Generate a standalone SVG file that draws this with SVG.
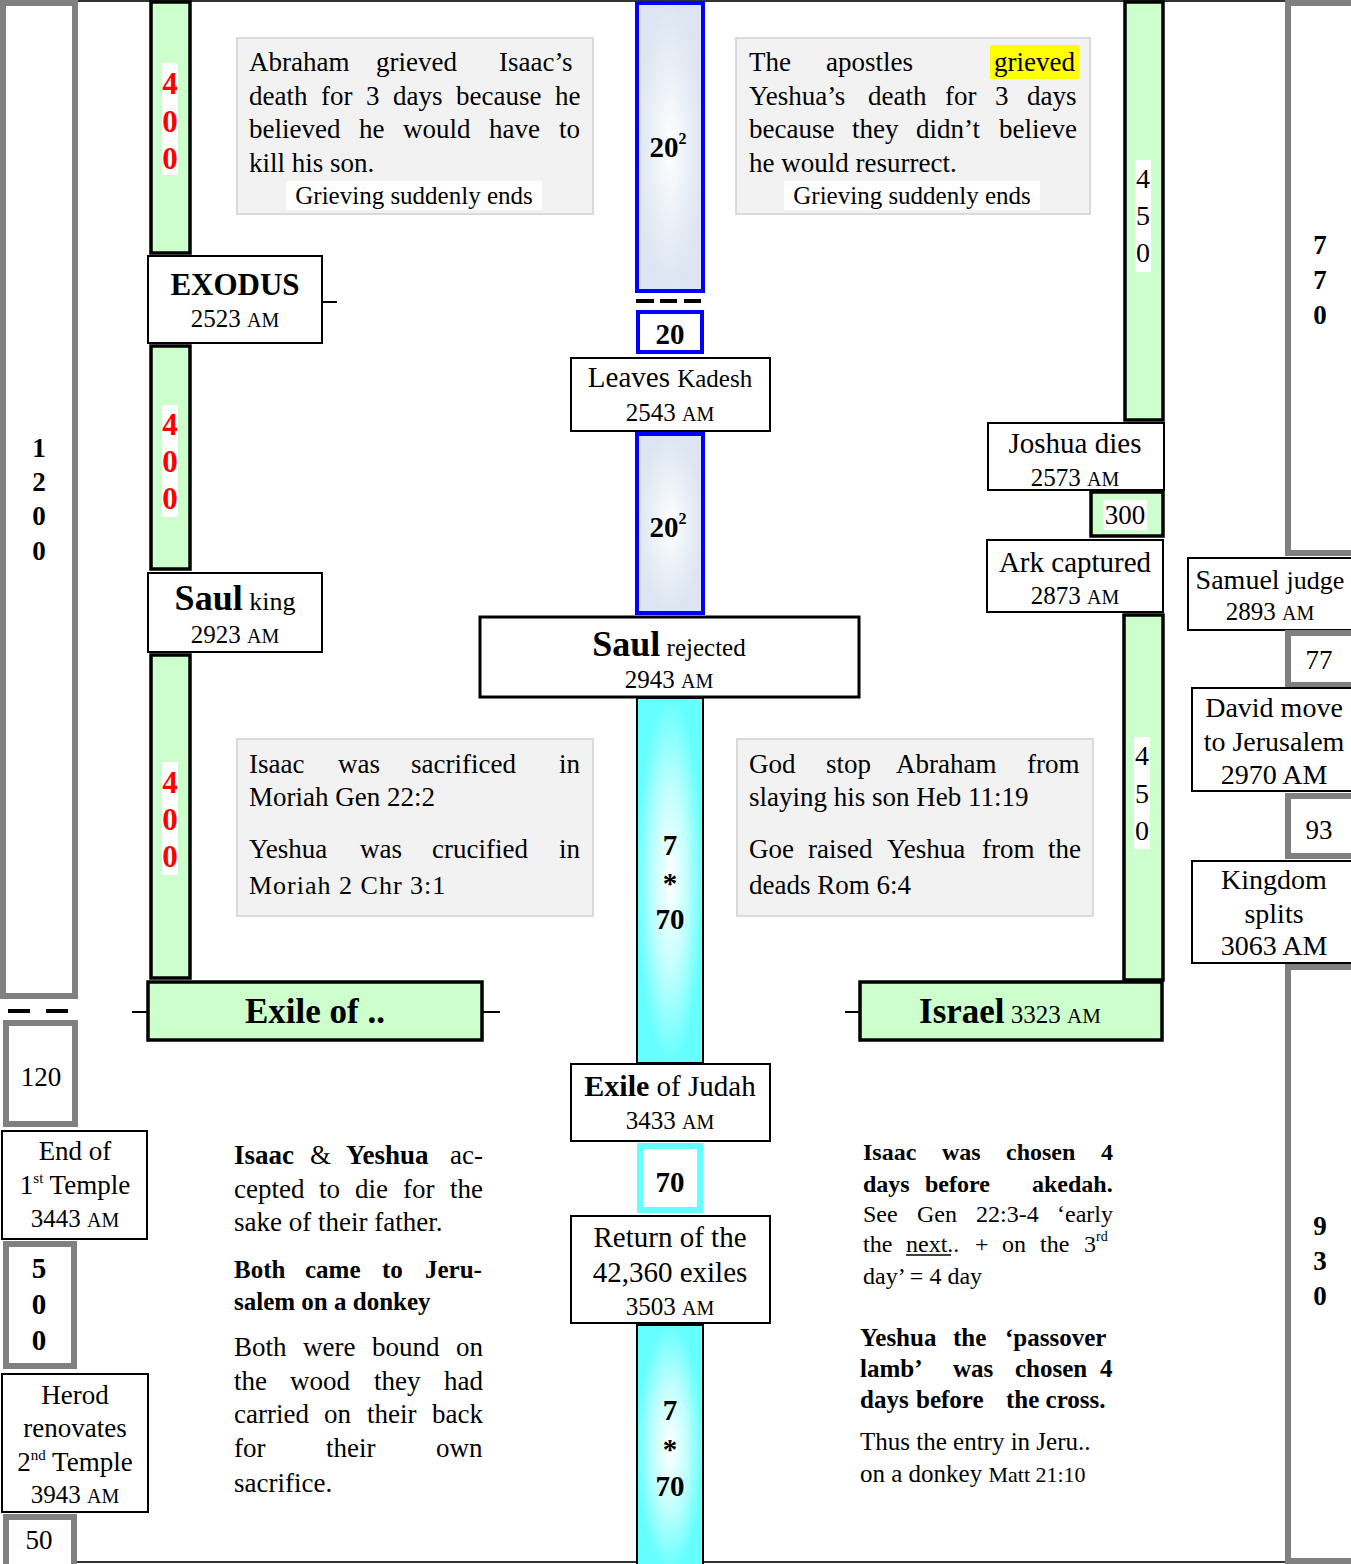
<svg xmlns="http://www.w3.org/2000/svg" width="1351" height="1564" viewBox="0 0 1351 1564">
<style>
text{font-family:"Liberation Serif","Times New Roman",serif;fill:#000}
.c{text-anchor:middle}
.b{font-weight:bold}
.box{fill:#fff;stroke:#000;stroke-width:2}
.box3{fill:#fff;stroke:#000;stroke-width:3}
.gbar{fill:#CCFFCC;stroke:#000;stroke-width:3.5}
.gray{fill:#fff;stroke:#808080;stroke-width:6}
.note{fill:#F2F2F2;stroke:#DADADA;stroke-width:2}
.blue{stroke:#0000FF;stroke-width:4;fill:url(#bg)}
.cyan{fill:url(#cg);stroke:#000;stroke-width:2}
.red{fill:#FF0000;font-weight:bold;font-size:31px}
.wbg{fill:#fff}
.n27{font-size:27px}
.tick{stroke:#000;stroke-width:2}
</style>
<defs>
<radialGradient id="bg" cx="0.5" cy="0.5" r="0.5">
<stop offset="0" stop-color="#FFFFFF"/>
<stop offset="0.55" stop-color="#EAF0F7"/>
<stop offset="1" stop-color="#DCE5F1"/>
</radialGradient>
<radialGradient id="cg" cx="0.5" cy="0.5" r="0.5">
<stop offset="0" stop-color="#FFFFFF"/>
<stop offset="0.5" stop-color="#C4FFFF"/>
<stop offset="1" stop-color="#66FFFF"/>
</radialGradient>
</defs>
<rect width="1351" height="1564" fill="#fff"/>

<g id="connectors">
<line x1="78" y1="1" x2="1286" y2="1" stroke="#333" stroke-width="2"/>
<line x1="76" y1="1562" x2="1286" y2="1562" stroke="#333" stroke-width="2"/>
<line class="tick" x1="322" y1="302" x2="337" y2="302"/>
<line class="tick" x1="132" y1="1012" x2="148" y2="1012"/>
<line class="tick" x1="483" y1="1012" x2="500" y2="1012"/>
<line class="tick" x1="845" y1="1012" x2="860" y2="1012"/>
<g stroke="#000" stroke-width="4">
<line x1="8" y1="1011" x2="30" y2="1011"/>
<line x1="46" y1="1011" x2="68" y2="1011"/>
<line x1="636" y1="301" x2="654" y2="301"/>
<line x1="660" y1="301" x2="677" y2="301"/>
<line x1="684" y1="301" x2="701" y2="301"/>
</g>
</g>

<!-- left gray column -->
<g id="span1200">
<rect class="gray" x="3" y="3" width="72" height="993"/>
<text class="c b" font-size="27" x="39" y="457">1</text>
<text class="c b" font-size="27" x="39" y="491">2</text>
<text class="c b" font-size="27" x="39" y="525">0</text>
<text class="c b" font-size="27" x="39" y="560">0</text>
</g>
<g id="span120">
<rect class="gray" x="6" y="1023" width="69" height="101"/>
<text class="c" font-size="27" x="41" y="1086">120</text>
</g>
<g id="end-first-temple">
<rect class="box" x="2" y="1131" width="145" height="108"/>
<text class="c" font-size="27" x="75" y="1160">End of</text>
<text class="c" font-size="27" x="75" y="1194">1<tspan font-size="15" dy="-11">st</tspan><tspan dy="11"> Temple</tspan></text>
<text class="c" font-size="25" x="75" y="1227">3443 <tspan font-size="20">AM</tspan></text>
</g>
<g id="span500">
<rect class="gray" x="6" y="1244" width="68" height="122"/>
<text class="c b" font-size="29" x="39" y="1278">5</text>
<text class="c b" font-size="29" x="39" y="1314">0</text>
<text class="c b" font-size="29" x="39" y="1350">0</text>
</g>
<g id="herod">
<rect class="box" x="2" y="1374" width="146" height="138"/>
<text class="c" font-size="27" x="75" y="1404">Herod</text>
<text class="c" font-size="27" x="75" y="1437">renovates</text>
<text class="c" font-size="27" x="75" y="1471">2<tspan font-size="15" dy="-11">nd</tspan><tspan dy="11"> Temple</tspan></text>
<text class="c" font-size="25" x="75" y="1503">3943 <tspan font-size="20">AM</tspan></text>
</g>
<g id="span50">
<rect class="gray" x="6" y="1517" width="68" height="52"/>
<text class="c" font-size="27" x="39" y="1549">50</text>
</g>

<!-- left green bars -->
<g id="bar400a">
<rect class="gbar" x="151" y="2" width="39" height="251"/>
<rect class="wbg" x="162" y="63" width="16" height="112"/>
<text class="c red" x="170" y="94">4</text>
<text class="c red" x="170" y="132">0</text>
<text class="c red" x="170" y="169">0</text>
</g>
<g id="exodus">
<rect class="box" x="148" y="256" width="174" height="87"/>
<text class="c b" font-size="31" x="235" y="295">EXODUS</text>
<text class="c" font-size="25" x="235" y="327">2523 <tspan font-size="20">AM</tspan></text>
</g>
<g id="bar400b">
<rect class="gbar" x="151" y="346" width="39" height="223"/>
<rect class="wbg" x="162" y="405" width="16" height="112"/>
<text class="c red" x="170" y="435">4</text>
<text class="c red" x="170" y="472">0</text>
<text class="c red" x="170" y="509">0</text>
</g>
<g id="saul-king">
<rect class="box" x="148" y="573" width="174" height="79"/>
<text class="c" x="235" y="610"><tspan class="b" font-size="36">Saul</tspan><tspan font-size="26"> king</tspan></text>
<text class="c" font-size="25" x="235" y="643">2923 <tspan font-size="20">AM</tspan></text>
</g>
<g id="bar400c">
<rect class="gbar" x="151" y="655" width="39" height="323"/>
<rect class="wbg" x="162" y="762" width="16" height="113"/>
<text class="c red" x="170" y="793">4</text>
<text class="c red" x="170" y="830">0</text>
<text class="c red" x="170" y="867">0</text>
</g>
<g id="exile-of">
<rect class="gbar" x="148" y="982" width="334" height="58"/>
<text class="c b" font-size="35" x="315" y="1023">Exile of ..</text>
</g>

<!-- note boxes -->
<g id="note-abraham-grieved">
<rect class="note" x="237" y="38" width="356" height="176"/>
<text class="n27" y="71"><tspan x="249">Abraham</tspan><tspan x="376">grieved</tspan><tspan x="499">Isaac’s</tspan></text>
<text class="n27" y="105"><tspan x="249">death</tspan><tspan x="321">for</tspan><tspan x="366">3</tspan><tspan x="393">days</tspan><tspan x="456">because</tspan><tspan x="555">he</tspan></text>
<text class="n27" y="138"><tspan x="249">believed</tspan><tspan x="359">he</tspan><tspan x="403">would</tspan><tspan x="489">have</tspan><tspan x="559">to</tspan></text>
<text class="n27" x="249" y="172">kill his son.</text>
<rect class="wbg" x="286" y="181" width="256" height="29"/>
<text class="c" font-size="25" x="414" y="204">Grieving suddenly ends</text>
</g>
<g id="note-apostles-grieved">
<rect class="note" x="736" y="38" width="354" height="176"/>
<rect fill="#FFFF00" x="990" y="45" width="89" height="34"/>
<text class="n27" y="71"><tspan x="749">The</tspan><tspan x="826">apostles</tspan><tspan x="994">grieved</tspan></text>
<text class="n27" y="105"><tspan x="749">Yeshua’s</tspan><tspan x="868">death</tspan><tspan x="945">for</tspan><tspan x="995">3</tspan><tspan x="1027">days</tspan></text>
<text class="n27" y="138"><tspan x="749">because</tspan><tspan x="852">they</tspan><tspan x="916">didn’t</tspan><tspan x="999">believe</tspan></text>
<text class="n27" x="749" y="172">he would resurrect.</text>
<rect class="wbg" x="784" y="181" width="256" height="29"/>
<text class="c" font-size="25" x="912" y="204">Grieving suddenly ends</text>
</g>
<g id="note-moriah">
<rect class="note" x="237" y="739" width="356" height="177"/>
<text class="n27" y="773"><tspan x="249">Isaac</tspan><tspan x="338">was</tspan><tspan x="411">sacrificed</tspan><tspan x="559">in</tspan></text>
<text class="n27" x="249" y="806">Moriah  Gen 22:2</text>
<text class="n27" y="858"><tspan x="249">Yeshua</tspan><tspan x="360">was</tspan><tspan x="432">crucified</tspan><tspan x="559">in</tspan></text>
<text x="249" y="894" font-family="'DejaVu Sans','Noto Sans',sans-serif" font-size="26" letter-spacing="1">Moriah 2 Chr 3:1</text>
</g>
<g id="note-god-stop">
<rect class="note" x="737" y="739" width="356" height="177"/>
<text class="n27" y="773"><tspan x="749">God</tspan><tspan x="826">stop</tspan><tspan x="896">Abraham</tspan><tspan x="1027">from</tspan></text>
<text class="n27" x="749" y="806">slaying his son Heb 11:19</text>
<text class="n27" y="858"><tspan x="749">Goe</tspan><tspan x="808">raised</tspan><tspan x="887">Yeshua</tspan><tspan x="982">from</tspan><tspan x="1048">the</tspan></text>
<text class="n27" x="749" y="894">deads Rom 6:4</text>
</g>

<!-- center column -->
<g id="bar20sq-a">
<rect class="blue" x="637" y="3" width="66" height="288"/>
<text class="c b" font-size="29" x="668" y="157">20<tspan font-size="16" dy="-13">2</tspan></text>
</g>
<g id="box20">
<rect fill="#fff" stroke="#0000FF" stroke-width="4" x="638" y="312" width="64" height="40"/>
<text class="c b" font-size="29" x="670" y="344">20</text>
</g>
<g id="leaves-kadesh">
<rect class="box" x="571" y="358" width="199" height="73"/>
<text class="c" x="670" y="387"><tspan font-size="29">Leaves </tspan><tspan font-size="25">Kadesh</tspan></text>
<text class="c" font-size="25" x="670" y="421">2543 <tspan font-size="20">AM</tspan></text>
</g>
<g id="bar20sq-b">
<rect class="blue" x="637" y="434" width="66" height="179"/>
<text class="c b" font-size="29" x="668" y="537">20<tspan font-size="16" dy="-13">2</tspan></text>
</g>
<g id="saul-rejected">
<rect class="box3" x="480" y="617" width="379" height="80"/>
<text class="c" x="669" y="656"><tspan class="b" font-size="36">Saul</tspan><tspan font-size="25"> rejected</tspan></text>
<text class="c" font-size="25" x="669" y="688">2943 <tspan font-size="20">AM</tspan></text>
</g>
<g id="bar490a">
<rect class="cyan" x="637" y="698" width="66" height="365"/>
<text class="c b" font-size="29" x="670" y="855">7</text>
<text class="c b" font-size="29" x="670" y="893">*</text>
<text class="c b" font-size="29" x="670" y="929">70</text>
</g>
<g id="exile-judah">
<rect class="box" x="571" y="1064" width="199" height="77"/>
<text class="c" x="670" y="1096"><tspan class="b" font-size="30">Exile</tspan><tspan font-size="29"> of Judah</tspan></text>
<text class="c" font-size="25" x="670" y="1129">3433 <tspan font-size="20">AM</tspan></text>
</g>
<g id="box70">
<rect fill="#fff" stroke="#66FFFF" stroke-width="6" x="640" y="1146" width="60" height="64"/>
<text class="c b" font-size="29" x="670" y="1192">70</text>
</g>
<g id="return-exiles">
<rect class="box" x="571" y="1216" width="199" height="107"/>
<text class="c" font-size="29" x="670" y="1247">Return of the</text>
<text class="c" font-size="29" x="670" y="1282">42,360 exiles</text>
<text class="c" font-size="25" x="670" y="1315">3503 <tspan font-size="20">AM</tspan></text>
</g>
<g id="bar490b">
<rect class="cyan" x="637" y="1325" width="66" height="245"/>
<text class="c b" font-size="29" x="670" y="1420">7</text>
<text class="c b" font-size="29" x="670" y="1459">*</text>
<text class="c b" font-size="29" x="670" y="1496">70</text>
</g>

<!-- right green column -->
<g id="bar450a">
<rect class="gbar" x="1125" y="2" width="38" height="418"/>
<rect class="wbg" x="1135" y="160" width="16" height="112"/>
<text class="c" font-size="28" x="1143" y="188">4</text>
<text class="c" font-size="28" x="1143" y="225">5</text>
<text class="c" font-size="28" x="1143" y="262">0</text>
</g>
<g id="joshua-dies">
<rect class="box" x="988" y="423" width="176" height="67"/>
<text class="c" font-size="29" x="1075" y="453">Joshua dies</text>
<text class="c" font-size="25" x="1075" y="486">2573 <tspan font-size="20">AM</tspan></text>
</g>
<g id="span300">
<rect class="gbar" x="1091" y="492" width="72" height="44"/>
<rect class="wbg" x="1103" y="500" width="44" height="30"/>
<text class="c" font-size="27" x="1125" y="524">300</text>
</g>
<g id="ark-captured">
<rect class="box" x="987" y="540" width="176" height="72"/>
<text class="c" font-size="29" x="1075" y="572">Ark captured</text>
<text class="c" font-size="25" x="1075" y="604">2873 <tspan font-size="20">AM</tspan></text>
</g>
<g id="bar450b">
<rect class="gbar" x="1124" y="615" width="39" height="365"/>
<rect class="wbg" x="1134" y="737" width="16" height="112"/>
<text class="c" font-size="28" x="1142" y="765">4</text>
<text class="c" font-size="28" x="1142" y="803">5</text>
<text class="c" font-size="28" x="1142" y="840">0</text>
</g>
<g id="israel">
<rect class="gbar" x="860" y="982" width="302" height="58"/>
<text class="c" x="1010" y="1023"><tspan class="b" font-size="35">Israel</tspan><tspan font-size="25"> 3323 <tspan font-size="21">AM</tspan></tspan></text>
</g>

<!-- far right gray column -->
<g id="span770">
<rect class="gray" x="1288" y="3" width="70" height="550"/>
<text class="c b" font-size="27" x="1320" y="254">7</text>
<text class="c b" font-size="27" x="1320" y="289">7</text>
<text class="c b" font-size="27" x="1320" y="324">0</text>
</g>
<g id="samuel-judge">
<rect class="box" x="1188" y="558" width="170" height="72"/>
<text class="c" x="1270" y="589"><tspan font-size="28">Samuel </tspan><tspan font-size="26">judge</tspan></text>
<text class="c" font-size="25" x="1270" y="620">2893 <tspan font-size="20">AM</tspan></text>
</g>
<g id="span77">
<rect class="gray" x="1288" y="633" width="70" height="52"/>
<text class="c" font-size="27" x="1319" y="669">77</text>
</g>
<g id="david-jerusalem">
<rect class="box" x="1192" y="688" width="166" height="103"/>
<text class="c" font-size="28" x="1274" y="717">David move</text>
<text class="c" font-size="28" x="1274" y="751">to Jerusalem</text>
<text class="c" font-size="28" x="1274" y="784">2970 AM</text>
</g>
<g id="span93">
<rect class="gray" x="1288" y="796" width="70" height="60"/>
<text class="c" font-size="27" x="1319" y="839">93</text>
</g>
<g id="kingdom-splits">
<rect class="box" x="1192" y="861" width="166" height="102"/>
<text class="c" font-size="28" x="1274" y="889">Kingdom</text>
<text class="c" font-size="28" x="1274" y="923">splits</text>
<text class="c" font-size="28" x="1274" y="955">3063 AM</text>
</g>
<g id="span930">
<rect class="gray" x="1288" y="967" width="70" height="594"/>
<text class="c b" font-size="27" x="1320" y="1235">9</text>
<text class="c b" font-size="27" x="1320" y="1270">3</text>
<text class="c b" font-size="27" x="1320" y="1305">0</text>
</g>

<!-- bottom texts -->
<g id="text-isaac-yeshua">
<text class="n27" y="1164"><tspan x="234" class="b">Isaac</tspan><tspan x="310">&amp;</tspan><tspan x="346" class="b">Yeshua</tspan><tspan x="450">ac-</tspan></text>
<text class="n27" y="1198"><tspan x="234">cepted</tspan><tspan x="319">to</tspan><tspan x="355">die</tspan><tspan x="403">for</tspan><tspan x="450">the</tspan></text>
<text class="n27" x="234" y="1231">sake of their father.</text>
<text class="b" font-size="25" y="1278"><tspan x="234">Both</tspan><tspan x="305">came</tspan><tspan x="382">to</tspan><tspan x="425">Jeru-</tspan></text>
<text class="b" font-size="25" x="234" y="1310">salem on a donkey</text>
<text class="n27" y="1356"><tspan x="234">Both</tspan><tspan x="303">were</tspan><tspan x="372">bound</tspan><tspan x="456">on</tspan></text>
<text class="n27" y="1390"><tspan x="234">the</tspan><tspan x="290">wood</tspan><tspan x="374">they</tspan><tspan x="444">had</tspan></text>
<text class="n27" y="1423"><tspan x="234">carried</tspan><tspan x="324">on</tspan><tspan x="367">their</tspan><tspan x="432">back</tspan></text>
<text class="n27" y="1457"><tspan x="234">for</tspan><tspan x="326">their</tspan><tspan x="436">own</tspan></text>
<text class="n27" x="234" y="1492">sacrifice.</text>
</g>
<g id="text-chosen">
<text class="b" font-size="24" y="1160"><tspan x="863">Isaac</tspan><tspan x="942">was</tspan><tspan x="1006">chosen</tspan><tspan x="1101">4</tspan></text>
<text class="b" font-size="24" y="1192"><tspan x="863">days</tspan><tspan x="925">before</tspan><tspan x="1032">akedah.</tspan></text>
<text font-size="24" y="1222"><tspan x="863">See</tspan><tspan x="917">Gen</tspan><tspan x="976">22:3-4</tspan><tspan x="1057">‘early</tspan></text>
<text font-size="24" y="1252"><tspan x="863">the</tspan><tspan x="906">next</tspan><tspan>..</tspan><tspan x="975">+</tspan><tspan x="1002">on</tspan><tspan x="1040">the</tspan><tspan x="1084">3</tspan><tspan font-size="14" dy="-11">rd</tspan></text>
<line x1="906" y1="1255" x2="951" y2="1255" stroke="#000" stroke-width="1.5"/>
<text font-size="24" x="863" y="1284">day’ = 4 day</text>
<text class="b" font-size="25" y="1346"><tspan x="860">Yeshua</tspan><tspan x="953">the</tspan><tspan x="1005">‘passover</tspan></text>
<text class="b" font-size="25" y="1377"><tspan x="860">lamb’</tspan><tspan x="953">was</tspan><tspan x="1015">chosen</tspan><tspan x="1100">4</tspan></text>
<text class="b" font-size="25" y="1408"><tspan x="860">days</tspan><tspan x="916">before</tspan><tspan x="1006">the cross.</tspan></text>
<text font-size="25" x="860" y="1450">Thus the entry in Jeru..</text>
<text x="860" y="1482"><tspan font-size="25">on a donkey </tspan><tspan font-size="22">Matt 21:10</tspan></text>
</g>
</svg>
